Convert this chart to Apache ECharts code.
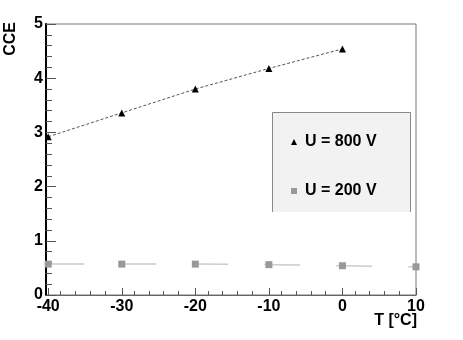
<!DOCTYPE html>
<html><head><meta charset="utf-8">
<script src="https://cdn.jsdelivr.net/npm/echarts@6/dist/echarts.min.js"></script>
<style>html,body{margin:0;padding:0;background:#fff}#c{width:463px;height:340px}</style>
</head><body><div id="c"></div>
<script>
var temps = [-40, -30, -20, -10, 0, 10];
var cce800 = [2.92, 3.36, 3.80, 4.18, 4.54];
var cce200 = [0.57, 0.57, 0.57, 0.56, 0.54, 0.52];
var xTicks = [-40, -30, -20, -10, 0, 10];
var yTicks = [0, 1, 2, 3, 4, 5];

var s800 = cce800.map(function(v, i){ return [temps[i], v]; });
var s200 = cce200.map(function(v, i){ return [temps[i], v]; });
var font = 'Liberation Sans, Arial, sans-serif';

var chart = echarts.init(document.getElementById('c'), null, {renderer: 'canvas'});
chart.setOption({
  animation: false,
  backgroundColor: '#fff',
  grid: {left: 46, right: 47, top: 24, bottom: 45, show: true, borderColor: '#777', borderWidth: 1},
  xAxis: {
    type: 'value', min: -40.3, max: 10, interval: 10,
    axisLine: {show: true, onZero: false, lineStyle: {color: '#666', width: 1}},
    axisTick: {show: true, inside: true, length: 7, lineStyle: {color: '#555'}, customValues: xTicks},
    minorTick: {show: true, splitNumber: 5, length: 4, lineStyle: {color: '#555'}},
    splitLine: {show: false},
    axisLabel: {color: '#000', fontSize: 16, fontWeight: 'bold', fontFamily: font, margin: 4, customValues: xTicks},
  },
  yAxis: {
    type: 'value', min: 0, max: 5, interval: 1,
    axisLine: {show: true, onZero: false, lineStyle: {color: '#000', width: 2}},
    axisTick: {show: true, inside: true, length: 10, lineStyle: {color: '#555'}, customValues: yTicks},
    minorTick: {show: true, splitNumber: 5, length: 6, lineStyle: {color: '#555'}},
    splitLine: {show: false},
    axisLabel: {color: '#000', fontSize: 16, fontWeight: 'bold', fontFamily: font, margin: 3, customValues: yTicks},
  },
  legend: {
    left: 286, top: 129, orient: 'vertical', itemGap: 33, itemWidth: 6, itemHeight: 6,
    textStyle: {color: '#000', fontSize: 16, fontWeight: 'bold', fontFamily: font, lineHeight: 16, padding: [0,0,0,3]},
    data: [
      {name: 'U = 800 V', icon: 'triangle', itemStyle: {color: '#000'}},
      {name: 'U = 200 V', icon: 'rect', itemStyle: {color: '#999'}}
    ]
  },
  graphic: [
    {type: 'rect', z: 0, shape: {x: 272, y: 112, width: 139, height: 100},
     style: {fill: '#f2f2f2'}},
    {type: 'polyline', z: 1, shape: {points: [[272.5, 212], [272.5, 112.5], [410.5, 112.5], [410.5, 212]]},
     style: {stroke: '#888', lineWidth: 1, fill: null}},
    {type: 'text', left: 3, top: 22, rotation: Math.PI/2, style: {text: 'CCE', fill: '#000', font: 'bold 16px ' + font}},
    {type: 'text', right: 46, top: 313, style: {text: 'T [°C]', fill: '#000', font: 'bold 16px ' + font}}
  ],
  series: [
    {name: 'U = 800 V', type: 'line', data: s800, symbol: 'triangle', symbolSize: 7,
     itemStyle: {color: '#000'}, lineStyle: {color: '#555', width: 1, type: [3, 2]}, z: 3},
    {name: 'U = 200 V', type: 'line', data: s200, symbol: 'rect', symbolSize: 7,
     itemStyle: {color: '#999'}, lineStyle: {color: '#ccc', width: 1.5, type: [36, 36]}, z: 3}
  ]
});
</script></body></html>
